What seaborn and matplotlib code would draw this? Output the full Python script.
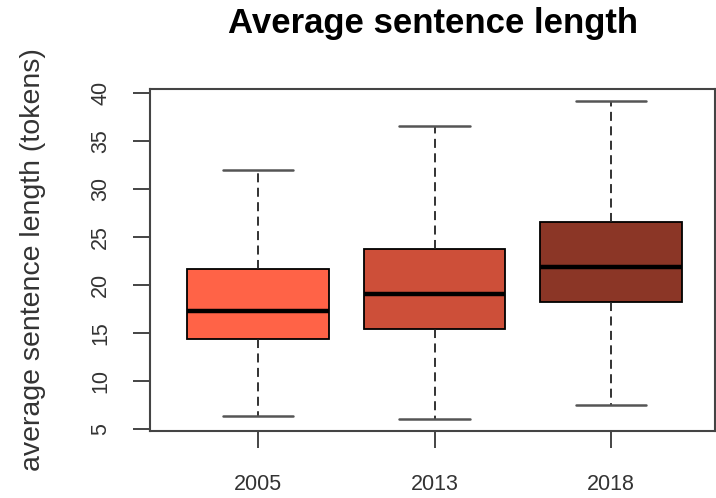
import matplotlib
matplotlib.use("Agg")
import matplotlib.pyplot as plt
import seaborn as sns
import pandas as pd

# Five-number summaries per year: lower whisker, Q1, median, Q3, upper whisker
years = ["2005", "2013", "2018"]
stats_2005 = [6.4, 14.4, 17.3, 21.7, 32.0]
stats_2013 = [6.0, 15.4, 19.1, 23.7, 36.5]
stats_2018 = [7.5, 18.2, 21.9, 26.5, 39.1]
colors = ["#FF6347", "#CD4F39", "#8B3626"]
y_ticks = [5, 10, 15, 20, 25, 30, 35, 40]

df = pd.DataFrame({
    "year": [y for y, s in zip(years, [stats_2005, stats_2013, stats_2018]) for _ in s],
    "length": stats_2005 + stats_2013 + stats_2018,
})

sns.set_theme(style="white")
plt.rcParams["font.family"] = ["Liberation Sans", "DejaVu Sans"]

fig = plt.figure(figsize=(7.16, 4.98), dpi=100)
ax = fig.add_axes([150 / 716, 1 - 431 / 498, 565 / 716, (431 - 89) / 498])

frame_col = "#444444"
sns.boxplot(
    data=df, x="year", y="length", hue="year", order=years, hue_order=years,
    palette=colors, legend=False, width=0.8, whis=(0, 100), dodge=False,
    linecolor="black", linewidth=1.3, saturation=1, ax=ax,
    boxprops=dict(edgecolor="black", linewidth=1.3),
    medianprops=dict(color="black", linewidth=3.2, solid_capstyle="butt"),
    whiskerprops=dict(color="#222222", linewidth=1.3, linestyle=(0, (5, 3))),
    capprops=dict(color="#555555", linewidth=1.8),
)

ax.set_xlim(-0.612, 2.589)
ax.set_ylim(4.79, 40.385)
ax.set_yticks(y_ticks)
ax.set_yticklabels([str(t) for t in y_ticks], rotation=90, va="center")
ax.set_xlabel("")
ax.set_ylabel("average sentence length (tokens)", fontsize=20.5, color="#333333", labelpad=32)
ax.set_title("Average sentence length", fontsize=25, fontweight="bold", color="black", pad=40)

for sp in ax.spines.values():
    sp.set_color(frame_col)
    sp.set_linewidth(1.5)
    sp.set_visible(True)

ax.tick_params(axis="both", direction="out", length=12, width=1.4, color=frame_col,
               labelcolor="#333333", labelsize=15.5, left=True, bottom=True)
ax.tick_params(axis="x", pad=19)
ax.tick_params(axis="y", pad=16)

fig.savefig("out.png", dpi=100)
